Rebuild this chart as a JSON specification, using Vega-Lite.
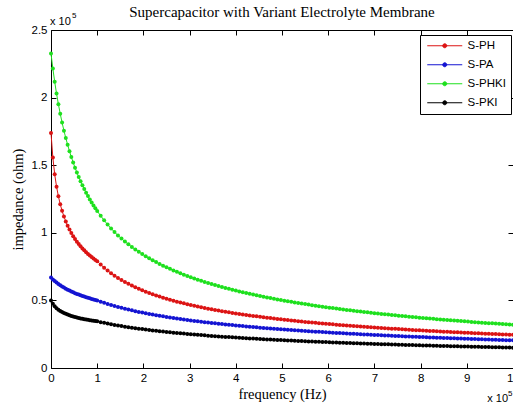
{
"$schema":"https://vega.github.io/schema/vega-lite/v6.json",
"width":462,"height":338,
"autosize":{"type":"none"},
"padding":{"left":51,"top":30,"right":0,"bottom":43},
"background":"white",
"title":{"text":"Supercapacitor with Variant Electrolyte Membrane","font":"Liberation Serif","fontSize":15,"fontWeight":"normal","color":"#000","anchor":"middle","offset":-20,"baseline":"alphabetic"},
"config":{"view":{"stroke":null},
"axis":{"grid":false,"domainColor":"#000","tickColor":"#000","labelColor":"#000","titleColor":"#000","labelFont":"Liberation Sans","labelFontSize":11.5,"titleFont":"Liberation Serif","titleFontSize":14.5,"titleFontWeight":"normal","domainWidth":1,"tickWidth":1,"labelFlush":false,"labelOverlap":false}},
"data":{"values":[
{"f":0,"S-PH":1.7389,"S-PA":0.669,"S-PHKI":2.3254,"S-PKI":0.5001},
{"f":0.04,"S-PH":1.5566,"S-PA":0.6555,"S-PHKI":2.215,"S-PKI":0.4747},
{"f":0.08,"S-PH":1.4331,"S-PA":0.6432,"S-PHKI":2.1172,"S-PKI":0.4566},
{"f":0.12,"S-PH":1.3415,"S-PA":0.6319,"S-PHKI":2.0298,"S-PKI":0.4426},
{"f":0.16,"S-PH":1.2698,"S-PA":0.6215,"S-PHKI":1.9512,"S-PKI":0.4313},
{"f":0.2,"S-PH":1.2114,"S-PA":0.6119,"S-PHKI":1.88,"S-PKI":0.4219},
{"f":0.24,"S-PH":1.1625,"S-PA":0.603,"S-PHKI":1.8151,"S-PKI":0.4138},
{"f":0.28,"S-PH":1.1207,"S-PA":0.5946,"S-PHKI":1.7557,"S-PKI":0.4068},
{"f":0.32,"S-PH":1.0844,"S-PA":0.5868,"S-PHKI":1.7011,"S-PKI":0.4005},
{"f":0.36,"S-PH":1.0525,"S-PA":0.5794,"S-PHKI":1.6507,"S-PKI":0.3949},
{"f":0.4,"S-PH":1.024,"S-PA":0.5725,"S-PHKI":1.6039,"S-PKI":0.3899},
{"f":0.44,"S-PH":0.9984,"S-PA":0.5659,"S-PHKI":1.5604,"S-PKI":0.3852},
{"f":0.48,"S-PH":0.9752,"S-PA":0.5597,"S-PHKI":1.5198,"S-PKI":0.381},
{"f":0.52,"S-PH":0.954,"S-PA":0.5538,"S-PHKI":1.4819,"S-PKI":0.3771},
{"f":0.56,"S-PH":0.9346,"S-PA":0.5482,"S-PHKI":1.4463,"S-PKI":0.3735},
{"f":0.6,"S-PH":0.9167,"S-PA":0.5428,"S-PHKI":1.4129,"S-PKI":0.3701},
{"f":0.64,"S-PH":0.9001,"S-PA":0.5377,"S-PHKI":1.3813,"S-PKI":0.3669},
{"f":0.68,"S-PH":0.8846,"S-PA":0.5328,"S-PHKI":1.3516,"S-PKI":0.3639},
{"f":0.72,"S-PH":0.8702,"S-PA":0.5281,"S-PHKI":1.3234,"S-PKI":0.3611},
{"f":0.76,"S-PH":0.8567,"S-PA":0.5236,"S-PHKI":1.2967,"S-PKI":0.3585},
{"f":0.8,"S-PH":0.8439,"S-PA":0.5193,"S-PHKI":1.2713,"S-PKI":0.356},
{"f":0.84,"S-PH":0.832,"S-PA":0.5152,"S-PHKI":1.2472,"S-PKI":0.3536},
{"f":0.88,"S-PH":0.8206,"S-PA":0.5112,"S-PHKI":1.2242,"S-PKI":0.3513},
{"f":0.92,"S-PH":0.8099,"S-PA":0.5073,"S-PHKI":1.2023,"S-PKI":0.3492},
{"f":0.96,"S-PH":0.7997,"S-PA":0.5036,"S-PHKI":1.1814,"S-PKI":0.3471},
{"f":1,"S-PH":0.79,"S-PA":0.5,"S-PHKI":1.1614,"S-PKI":0.3451},
{"f":1.075,"S-PH":0.7651,"S-PA":0.4909,"S-PHKI":1.1255,"S-PKI":0.3393},
{"f":1.15,"S-PH":0.7419,"S-PA":0.4822,"S-PHKI":1.0921,"S-PKI":0.3339},
{"f":1.225,"S-PH":0.7205,"S-PA":0.474,"S-PHKI":1.061,"S-PKI":0.3286},
{"f":1.3,"S-PH":0.7008,"S-PA":0.4662,"S-PHKI":1.0323,"S-PKI":0.3236},
{"f":1.375,"S-PH":0.6828,"S-PA":0.4588,"S-PHKI":1.0057,"S-PKI":0.3189},
{"f":1.45,"S-PH":0.666,"S-PA":0.4517,"S-PHKI":0.9806,"S-PKI":0.3144},
{"f":1.525,"S-PH":0.6503,"S-PA":0.4449,"S-PHKI":0.9573,"S-PKI":0.31},
{"f":1.6,"S-PH":0.6359,"S-PA":0.4384,"S-PHKI":0.9355,"S-PKI":0.3059},
{"f":1.675,"S-PH":0.6223,"S-PA":0.4323,"S-PHKI":0.9148,"S-PKI":0.3022},
{"f":1.75,"S-PH":0.6094,"S-PA":0.4264,"S-PHKI":0.8952,"S-PKI":0.2984},
{"f":1.825,"S-PH":0.5972,"S-PA":0.4206,"S-PHKI":0.8766,"S-PKI":0.2947},
{"f":1.9,"S-PH":0.5858,"S-PA":0.4151,"S-PHKI":0.8591,"S-PKI":0.2909},
{"f":1.975,"S-PH":0.5749,"S-PA":0.4101,"S-PHKI":0.8425,"S-PKI":0.2877},
{"f":2.05,"S-PH":0.5647,"S-PA":0.4051,"S-PHKI":0.8266,"S-PKI":0.2845},
{"f":2.125,"S-PH":0.5548,"S-PA":0.4001,"S-PHKI":0.8114,"S-PKI":0.2812},
{"f":2.2,"S-PH":0.5455,"S-PA":0.3951,"S-PHKI":0.797,"S-PKI":0.278},
{"f":2.275,"S-PH":0.5366,"S-PA":0.3907,"S-PHKI":0.7832,"S-PKI":0.2752},
{"f":2.35,"S-PH":0.5281,"S-PA":0.3864,"S-PHKI":0.7699,"S-PKI":0.2723},
{"f":2.425,"S-PH":0.5199,"S-PA":0.382,"S-PHKI":0.7572,"S-PKI":0.2695},
{"f":2.5,"S-PH":0.5122,"S-PA":0.3776,"S-PHKI":0.745,"S-PKI":0.2666},
{"f":2.575,"S-PH":0.5048,"S-PA":0.3738,"S-PHKI":0.7332,"S-PKI":0.2641},
{"f":2.65,"S-PH":0.4977,"S-PA":0.3699,"S-PHKI":0.722,"S-PKI":0.2616},
{"f":2.725,"S-PH":0.4907,"S-PA":0.3661,"S-PHKI":0.7111,"S-PKI":0.259},
{"f":2.8,"S-PH":0.4841,"S-PA":0.3622,"S-PHKI":0.7007,"S-PKI":0.2565},
{"f":2.875,"S-PH":0.4781,"S-PA":0.3588,"S-PHKI":0.6906,"S-PKI":0.2543},
{"f":2.95,"S-PH":0.472,"S-PA":0.3554,"S-PHKI":0.6809,"S-PKI":0.252},
{"f":3.025,"S-PH":0.466,"S-PA":0.3519,"S-PHKI":0.6715,"S-PKI":0.2498},
{"f":3.1,"S-PH":0.4599,"S-PA":0.3485,"S-PHKI":0.6624,"S-PKI":0.2475},
{"f":3.175,"S-PH":0.4546,"S-PA":0.3454,"S-PHKI":0.6536,"S-PKI":0.2455},
{"f":3.25,"S-PH":0.4493,"S-PA":0.3423,"S-PHKI":0.6452,"S-PKI":0.2435},
{"f":3.325,"S-PH":0.444,"S-PA":0.3392,"S-PHKI":0.6369,"S-PKI":0.2414},
{"f":3.4,"S-PH":0.4387,"S-PA":0.3361,"S-PHKI":0.6289,"S-PKI":0.2394},
{"f":3.475,"S-PH":0.4341,"S-PA":0.3333,"S-PHKI":0.6215,"S-PKI":0.2375},
{"f":3.55,"S-PH":0.4294,"S-PA":0.3305,"S-PHKI":0.6141,"S-PKI":0.2357},
{"f":3.625,"S-PH":0.4248,"S-PA":0.3276,"S-PHKI":0.6066,"S-PKI":0.2338},
{"f":3.7,"S-PH":0.4201,"S-PA":0.3248,"S-PHKI":0.5992,"S-PKI":0.2319},
{"f":3.775,"S-PH":0.416,"S-PA":0.3223,"S-PHKI":0.5926,"S-PKI":0.2302},
{"f":3.85,"S-PH":0.4118,"S-PA":0.3197,"S-PHKI":0.5859,"S-PKI":0.2285},
{"f":3.925,"S-PH":0.4077,"S-PA":0.3172,"S-PHKI":0.5793,"S-PKI":0.2268},
{"f":4,"S-PH":0.4035,"S-PA":0.3146,"S-PHKI":0.5726,"S-PKI":0.2251},
{"f":4.075,"S-PH":0.3998,"S-PA":0.3122,"S-PHKI":0.5666,"S-PKI":0.2235},
{"f":4.15,"S-PH":0.3961,"S-PA":0.3099,"S-PHKI":0.5607,"S-PKI":0.222},
{"f":4.225,"S-PH":0.3923,"S-PA":0.3075,"S-PHKI":0.5547,"S-PKI":0.2204},
{"f":4.3,"S-PH":0.3886,"S-PA":0.3051,"S-PHKI":0.5487,"S-PKI":0.2188},
{"f":4.375,"S-PH":0.3852,"S-PA":0.3029,"S-PHKI":0.5433,"S-PKI":0.2174},
{"f":4.45,"S-PH":0.3819,"S-PA":0.3008,"S-PHKI":0.5379,"S-PKI":0.2159},
{"f":4.525,"S-PH":0.3785,"S-PA":0.2986,"S-PHKI":0.5325,"S-PKI":0.2145},
{"f":4.6,"S-PH":0.3751,"S-PA":0.2964,"S-PHKI":0.5271,"S-PKI":0.213},
{"f":4.675,"S-PH":0.372,"S-PA":0.2944,"S-PHKI":0.5222,"S-PKI":0.2117},
{"f":4.75,"S-PH":0.369,"S-PA":0.2924,"S-PHKI":0.5172,"S-PKI":0.2104},
{"f":4.825,"S-PH":0.3659,"S-PA":0.2904,"S-PHKI":0.5123,"S-PKI":0.209},
{"f":4.9,"S-PH":0.3628,"S-PA":0.2884,"S-PHKI":0.5073,"S-PKI":0.2077},
{"f":4.975,"S-PH":0.36,"S-PA":0.2865,"S-PHKI":0.5028,"S-PKI":0.2064},
{"f":5.05,"S-PH":0.3572,"S-PA":0.2847,"S-PHKI":0.4983,"S-PKI":0.2052},
{"f":5.125,"S-PH":0.3543,"S-PA":0.2828,"S-PHKI":0.4937,"S-PKI":0.2039},
{"f":5.2,"S-PH":0.3515,"S-PA":0.2809,"S-PHKI":0.4892,"S-PKI":0.2026},
{"f":5.275,"S-PH":0.3489,"S-PA":0.2792,"S-PHKI":0.4851,"S-PKI":0.2014},
{"f":5.35,"S-PH":0.3463,"S-PA":0.2774,"S-PHKI":0.4809,"S-PKI":0.2003},
{"f":5.425,"S-PH":0.3437,"S-PA":0.2757,"S-PHKI":0.4768,"S-PKI":0.1991},
{"f":5.5,"S-PH":0.3411,"S-PA":0.2739,"S-PHKI":0.4726,"S-PKI":0.1979},
{"f":5.575,"S-PH":0.3387,"S-PA":0.2723,"S-PHKI":0.4688,"S-PKI":0.1968},
{"f":5.65,"S-PH":0.3363,"S-PA":0.2706,"S-PHKI":0.4649,"S-PKI":0.1957},
{"f":5.725,"S-PH":0.3339,"S-PA":0.269,"S-PHKI":0.4611,"S-PKI":0.1946},
{"f":5.8,"S-PH":0.3315,"S-PA":0.2673,"S-PHKI":0.4572,"S-PKI":0.1935},
{"f":5.875,"S-PH":0.3293,"S-PA":0.2658,"S-PHKI":0.4536,"S-PKI":0.1925},
{"f":5.95,"S-PH":0.3271,"S-PA":0.2642,"S-PHKI":0.4501,"S-PKI":0.1914},
{"f":6.025,"S-PH":0.3249,"S-PA":0.2627,"S-PHKI":0.4465,"S-PKI":0.1904},
{"f":6.1,"S-PH":0.3227,"S-PA":0.2611,"S-PHKI":0.4429,"S-PKI":0.1893},
{"f":6.175,"S-PH":0.3206,"S-PA":0.2597,"S-PHKI":0.4396,"S-PKI":0.1883},
{"f":6.25,"S-PH":0.3186,"S-PA":0.2582,"S-PHKI":0.4363,"S-PKI":0.1874},
{"f":6.325,"S-PH":0.3165,"S-PA":0.2568,"S-PHKI":0.433,"S-PKI":0.1864},
{"f":6.4,"S-PH":0.3144,"S-PA":0.2553,"S-PHKI":0.4297,"S-PKI":0.1854},
{"f":6.475,"S-PH":0.3125,"S-PA":0.2539,"S-PHKI":0.4266,"S-PKI":0.1845},
{"f":6.55,"S-PH":0.3105,"S-PA":0.2526,"S-PHKI":0.4235,"S-PKI":0.1836},
{"f":6.625,"S-PH":0.3086,"S-PA":0.2512,"S-PHKI":0.4204,"S-PKI":0.1826},
{"f":6.7,"S-PH":0.3066,"S-PA":0.2498,"S-PHKI":0.4173,"S-PKI":0.1817},
{"f":6.775,"S-PH":0.3048,"S-PA":0.2485,"S-PHKI":0.4144,"S-PKI":0.1808},
{"f":6.85,"S-PH":0.303,"S-PA":0.2472,"S-PHKI":0.4115,"S-PKI":0.18},
{"f":6.925,"S-PH":0.3012,"S-PA":0.2459,"S-PHKI":0.4085,"S-PKI":0.1791},
{"f":7,"S-PH":0.2994,"S-PA":0.2446,"S-PHKI":0.4056,"S-PKI":0.1782},
{"f":7.075,"S-PH":0.2977,"S-PA":0.2434,"S-PHKI":0.4029,"S-PKI":0.1774},
{"f":7.15,"S-PH":0.296,"S-PA":0.2422,"S-PHKI":0.4002,"S-PKI":0.1765},
{"f":7.225,"S-PH":0.2943,"S-PA":0.2409,"S-PHKI":0.3975,"S-PKI":0.1757},
{"f":7.3,"S-PH":0.2926,"S-PA":0.2397,"S-PHKI":0.3948,"S-PKI":0.1748},
{"f":7.375,"S-PH":0.291,"S-PA":0.2385,"S-PHKI":0.3922,"S-PKI":0.174},
{"f":7.45,"S-PH":0.2894,"S-PA":0.2374,"S-PHKI":0.3897,"S-PKI":0.1732},
{"f":7.525,"S-PH":0.2878,"S-PA":0.2362,"S-PHKI":0.3871,"S-PKI":0.1724},
{"f":7.6,"S-PH":0.2862,"S-PA":0.235,"S-PHKI":0.3845,"S-PKI":0.1716},
{"f":7.675,"S-PH":0.2847,"S-PA":0.2339,"S-PHKI":0.3821,"S-PKI":0.1709},
{"f":7.75,"S-PH":0.2832,"S-PA":0.2328,"S-PHKI":0.3797,"S-PKI":0.1701},
{"f":7.825,"S-PH":0.2816,"S-PA":0.2316,"S-PHKI":0.3772,"S-PKI":0.1694},
{"f":7.9,"S-PH":0.2801,"S-PA":0.2305,"S-PHKI":0.3748,"S-PKI":0.1686},
{"f":7.975,"S-PH":0.2787,"S-PA":0.2295,"S-PHKI":0.3725,"S-PKI":0.1679},
{"f":8.05,"S-PH":0.2773,"S-PA":0.2284,"S-PHKI":0.3703,"S-PKI":0.1672},
{"f":8.125,"S-PH":0.2758,"S-PA":0.2274,"S-PHKI":0.368,"S-PKI":0.1664},
{"f":8.2,"S-PH":0.2744,"S-PA":0.2263,"S-PHKI":0.3657,"S-PKI":0.1657},
{"f":8.275,"S-PH":0.2731,"S-PA":0.2253,"S-PHKI":0.3636,"S-PKI":0.165},
{"f":8.35,"S-PH":0.2717,"S-PA":0.2243,"S-PHKI":0.3614,"S-PKI":0.1643},
{"f":8.425,"S-PH":0.2704,"S-PA":0.2232,"S-PHKI":0.3593,"S-PKI":0.1636},
{"f":8.5,"S-PH":0.269,"S-PA":0.2222,"S-PHKI":0.3571,"S-PKI":0.1629},
{"f":8.575,"S-PH":0.2677,"S-PA":0.2212,"S-PHKI":0.3551,"S-PKI":0.1623},
{"f":8.65,"S-PH":0.2664,"S-PA":0.2203,"S-PHKI":0.353,"S-PKI":0.1616},
{"f":8.725,"S-PH":0.2651,"S-PA":0.2193,"S-PHKI":0.351,"S-PKI":0.161},
{"f":8.8,"S-PH":0.2638,"S-PA":0.2183,"S-PHKI":0.3489,"S-PKI":0.1603},
{"f":8.875,"S-PH":0.2626,"S-PA":0.2174,"S-PHKI":0.347,"S-PKI":0.1597},
{"f":8.95,"S-PH":0.2614,"S-PA":0.2165,"S-PHKI":0.345,"S-PKI":0.159},
{"f":9.025,"S-PH":0.2601,"S-PA":0.2155,"S-PHKI":0.3431,"S-PKI":0.1584},
{"f":9.1,"S-PH":0.2589,"S-PA":0.2146,"S-PHKI":0.3411,"S-PKI":0.1577},
{"f":9.175,"S-PH":0.2577,"S-PA":0.2137,"S-PHKI":0.3393,"S-PKI":0.1571},
{"f":9.25,"S-PH":0.2566,"S-PA":0.2129,"S-PHKI":0.3374,"S-PKI":0.1565},
{"f":9.325,"S-PH":0.2554,"S-PA":0.212,"S-PHKI":0.3356,"S-PKI":0.1559},
{"f":9.4,"S-PH":0.2542,"S-PA":0.2111,"S-PHKI":0.3337,"S-PKI":0.1553},
{"f":9.475,"S-PH":0.2531,"S-PA":0.2103,"S-PHKI":0.3319,"S-PKI":0.1547},
{"f":9.55,"S-PH":0.252,"S-PA":0.2094,"S-PHKI":0.3302,"S-PKI":0.1541},
{"f":9.625,"S-PH":0.2509,"S-PA":0.2086,"S-PHKI":0.3284,"S-PKI":0.1535},
{"f":9.7,"S-PH":0.2498,"S-PA":0.2077,"S-PHKI":0.3266,"S-PKI":0.1529},
{"f":9.775,"S-PH":0.2487,"S-PA":0.2069,"S-PHKI":0.3249,"S-PKI":0.1524},
{"f":9.85,"S-PH":0.2477,"S-PA":0.2061,"S-PHKI":0.3233,"S-PKI":0.1518},
{"f":9.925,"S-PH":0.2466,"S-PA":0.2052,"S-PHKI":0.3216,"S-PKI":0.1513},
{"f":10,"S-PH":0.2455,"S-PA":0.2044,"S-PHKI":0.3199,"S-PKI":0.1507}
]},
"layer":[
{"transform":[{"fold":["S-PH","S-PA","S-PHKI","S-PKI"],"as":["series","z"]}],
"mark":{"type":"line","strokeWidth":1},
"encoding":{
"x":{"field":"f","type":"quantitative","scale":{"domain":[0,10],"nice":false,"zero":false},"axis":{"orient":"bottom","values":[0,1,2,3,4,5,6,7,8,9,10],"labelExpr":"'' + datum.value","title":"frequency (Hz)","tickSize":-5,"labelPadding":9,"titlePadding":4}},
"y":{"field":"z","type":"quantitative","scale":{"domain":[0,2.5],"nice":false},"axis":{"orient":"left","values":[0,0.5,1,1.5,2,2.5],"labelExpr":"'' + datum.value","title":"impedance (ohm)","tickSize":-5,"labelPadding":9,"titlePadding":6}},
"color":{"field":"series","type":"nominal","scale":{"domain":["S-PH","S-PA","S-PHKI","S-PKI"],"range":["#dc1414","#1414d2","#1ee01e","#000000"]},
"legend":{"orient":"none","legendX":369,"legendY":5,"title":null,"direction":"vertical","strokeColor":"#000","fillColor":"#fff","padding":5,"cornerRadius":0,"symbolType":"M-3.5,0L3.5,0M-0.4,0A0.4,0.4 0 1,0 0.4,0A0.4,0.4 0 1,0 -0.4,0","symbolSize":100,"symbolOffset":14,"labelOffset":17,"labelFont":"Liberation Sans","labelFontSize":11.5,"labelColor":"#000","rowPadding":6,"symbolStrokeWidth":1,
"encode":{"symbols":{"update":{"stroke":{"scale":"color","field":"value"},"fill":{"scale":"color","field":"value"},"strokeWidth":{"value":1},"opacity":{"value":1}}}}}}
}},
{"transform":[{"fold":["S-PH","S-PA","S-PHKI","S-PKI"],"as":["series","z"]}],
"mark":{"type":"point","filled":true,"size":16,"opacity":1},
"encoding":{
"x":{"field":"f","type":"quantitative","axis":{"orient":"top","values":[0,1,2,3,4,5,6,7,8,9,10],"labels":false,"title":null,"tickSize":-5}},
"y":{"field":"z","type":"quantitative","axis":{"orient":"right","values":[0,0.5,1,1.5,2,2.5],"labels":false,"title":null,"tickSize":-5}},
"color":{"field":"series","type":"nominal",
"legend":{"orient":"none","legendX":369,"legendY":5,"title":null,"direction":"vertical","strokeColor":"#000","fillColor":"#fff","padding":5,"cornerRadius":0,"symbolType":"M-3.5,0L3.5,0M-0.4,0A0.4,0.4 0 1,0 0.4,0A0.4,0.4 0 1,0 -0.4,0","symbolSize":100,"symbolOffset":14,"labelOffset":17,"labelFont":"Liberation Sans","labelFontSize":11.5,"labelColor":"#000","rowPadding":6,"symbolStrokeWidth":1,
"encode":{"symbols":{"update":{"stroke":{"scale":"color","field":"value"},"fill":{"scale":"color","field":"value"},"strokeWidth":{"value":1},"opacity":{"value":1}}}}}}
}},
{"data":{"values":[{}]},
"mark":{"type":"text","align":"left","baseline":"alphabetic","dx":-1,"dy":-5,"font":"Liberation Sans","fontSize":11,"color":"#000"},
"encoding":{"x":{"datum":0,"type":"quantitative","axis":null},"y":{"datum":2.5,"type":"quantitative","axis":null},"text":{"value":"x 10"}}},
{"data":{"values":[{}]},
"mark":{"type":"text","align":"left","baseline":"alphabetic","dx":21,"dy":-12,"font":"Liberation Sans","fontSize":8,"color":"#000"},
"encoding":{"x":{"datum":0,"type":"quantitative","axis":null},"y":{"datum":2.5,"type":"quantitative","axis":null},"text":{"value":"5"}}},
{"data":{"values":[{}]},
"mark":{"type":"text","align":"right","baseline":"alphabetic","dx":-5,"dy":34,"font":"Liberation Sans","fontSize":11,"color":"#000"},
"encoding":{"x":{"datum":10,"type":"quantitative","axis":null},"y":{"datum":0,"type":"quantitative","axis":null},"text":{"value":"x 10"}}},
{"data":{"values":[{}]},
"mark":{"type":"text","align":"left","baseline":"alphabetic","dx":-5,"dy":28,"font":"Liberation Sans","fontSize":8,"color":"#000"},
"encoding":{"x":{"datum":10,"type":"quantitative","axis":null},"y":{"datum":0,"type":"quantitative","axis":null},"text":{"value":"5"}}}
],
"resolve":{"axis":{"x":"independent","y":"independent"}}
}
